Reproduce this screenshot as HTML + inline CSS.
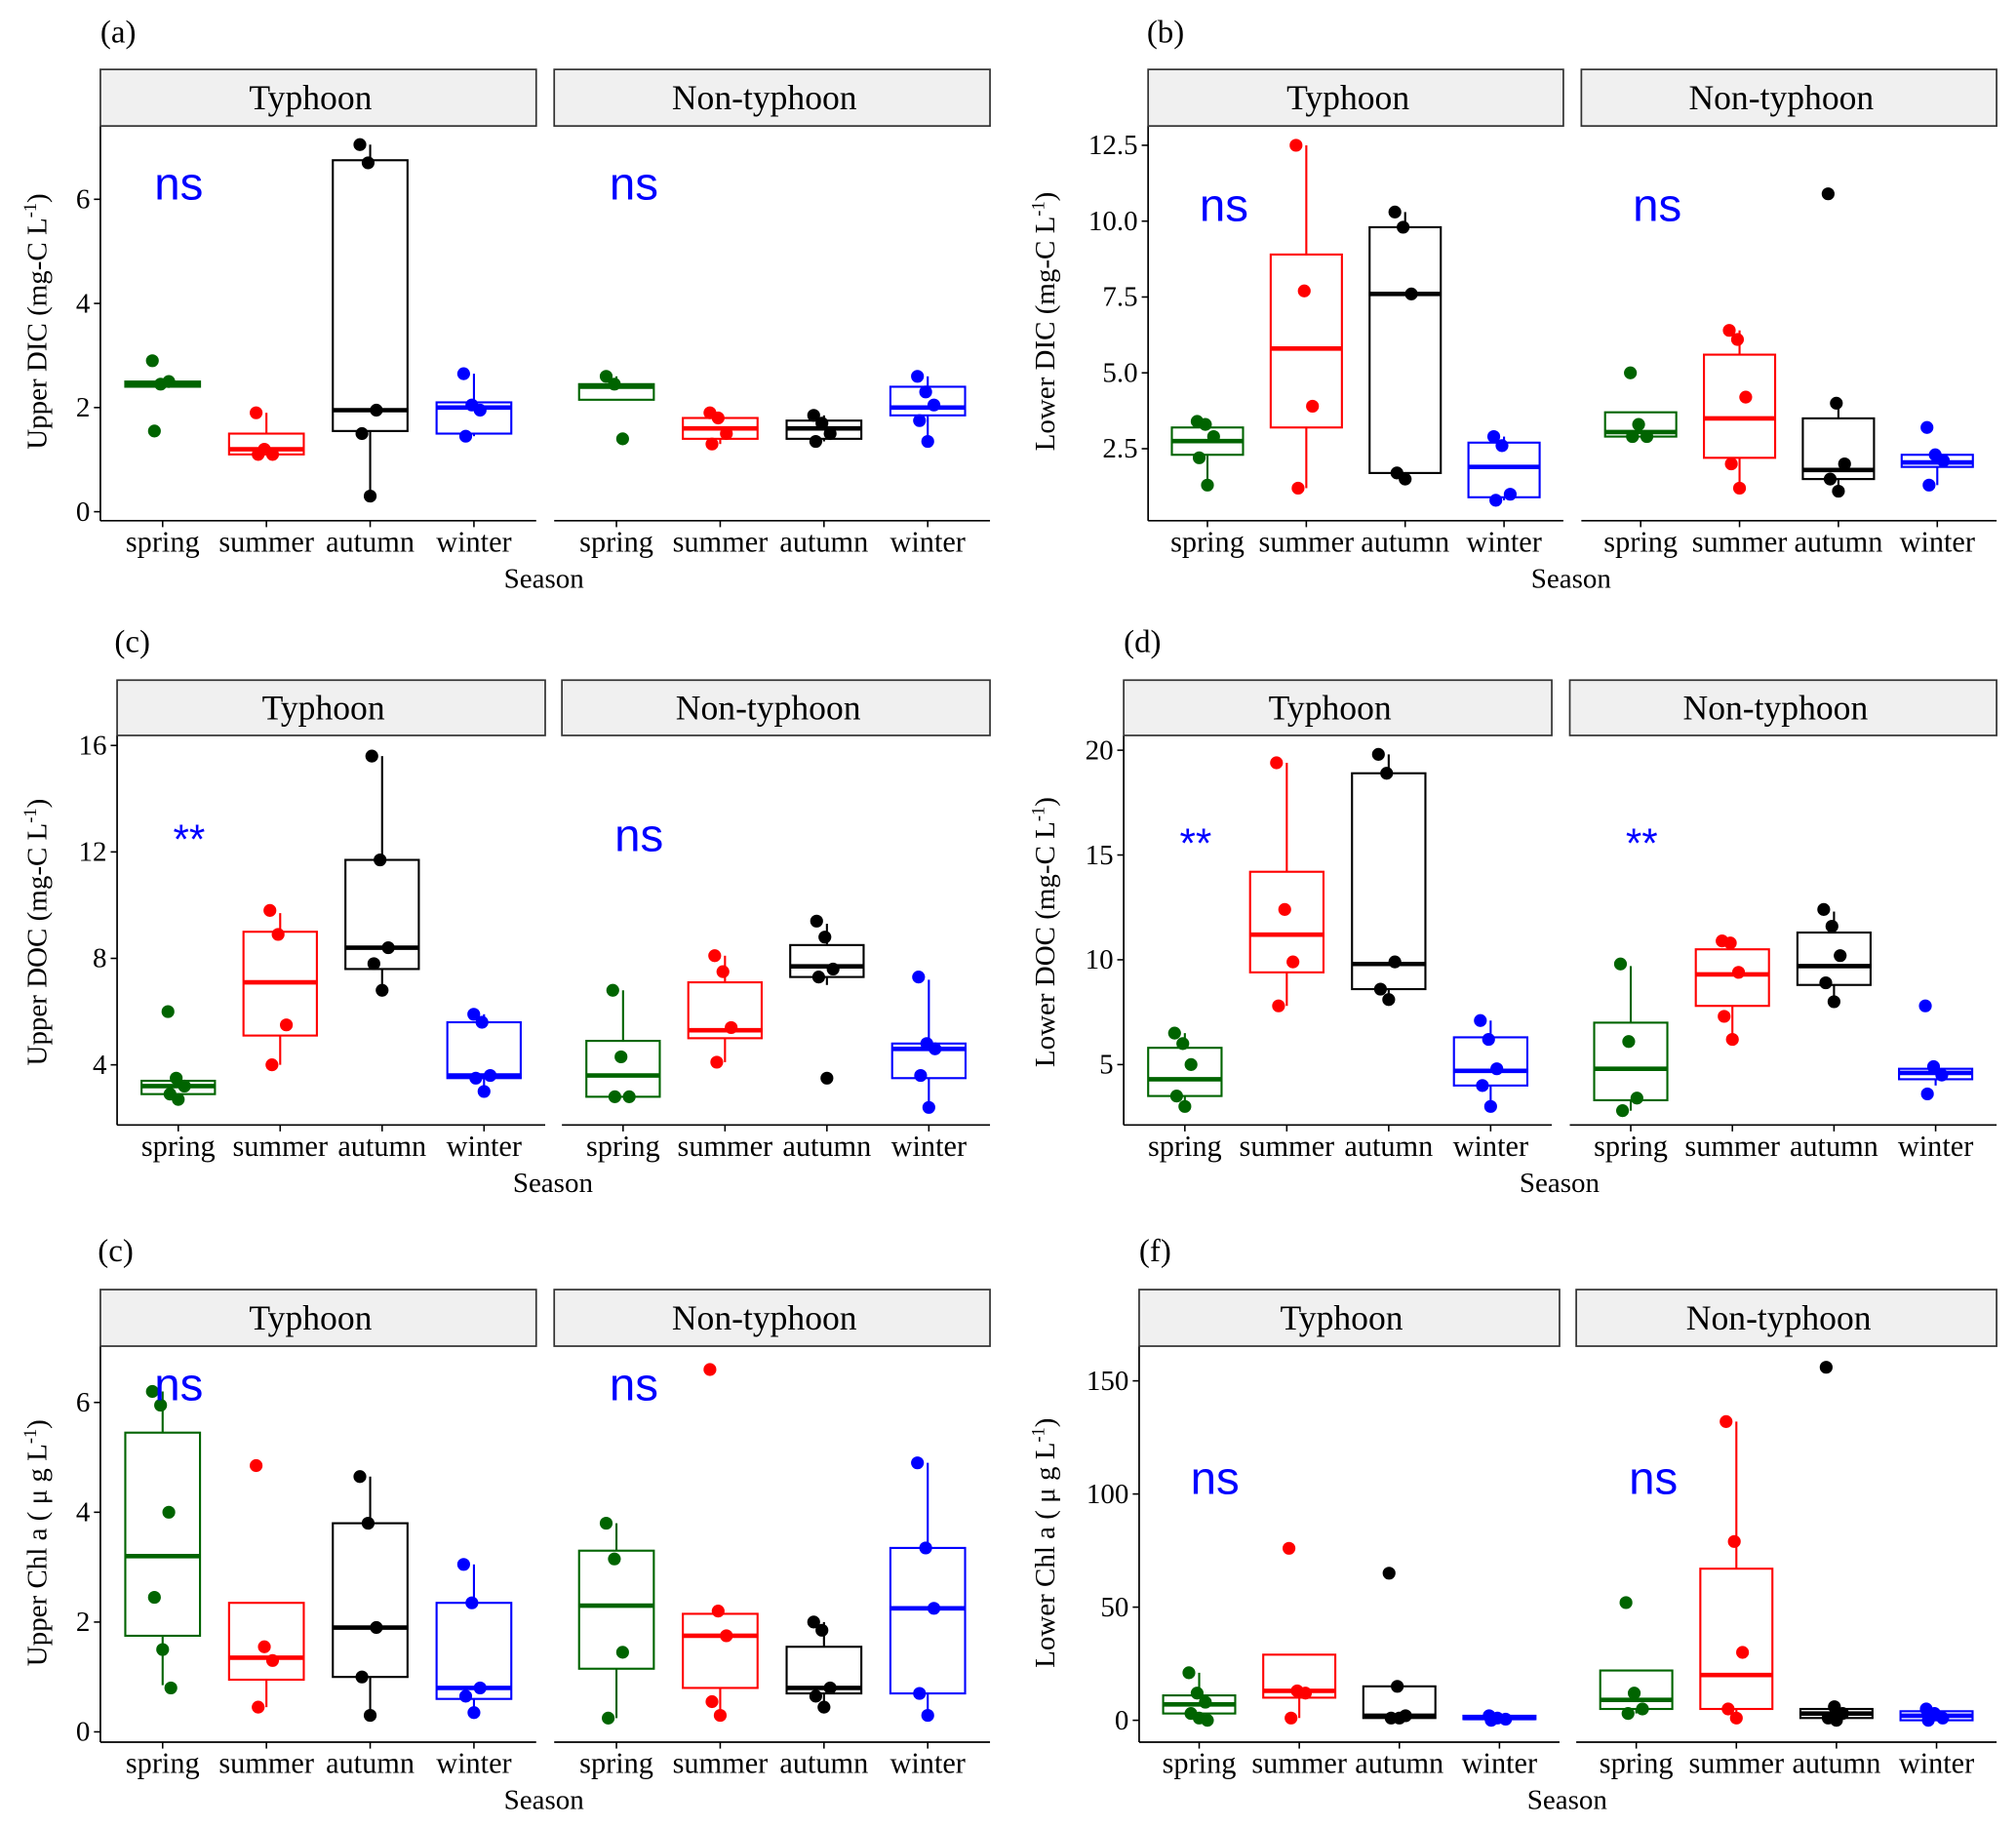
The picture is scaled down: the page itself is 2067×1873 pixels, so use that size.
<!DOCTYPE html>
<html><head><meta charset="utf-8">
<style>
html,body{margin:0;padding:0;background:#fff;}
svg{display:block;}
text{font-family:"Liberation Serif",serif;}
</style></head>
<body>
<svg id="fig" width="2067" height="1873" viewBox="0 0 1568 1421" xmlns="http://www.w3.org/2000/svg"></svg>
<script>
// categories
const seasons = ["spring","summer","autumn","winter"];
const facets = ["Typhoon","Non-typhoon"];
const colors = ["#006400","#ff0000","#000000","#0000ff"];

// stats: [min, q1, median, q3, max] ; points: observed values
const aTyphoonStats = [[2.4,2.4,2.45,2.5,2.5],[1.1,1.1,1.2,1.5,1.9],[0.3,1.55,1.95,6.75,7.05],[1.45,1.5,2.0,2.1,2.65]];
const aTyphoonPts = [[2.9,2.45,2.5,1.55],[1.9,1.2,1.1,1.1],[7.05,6.7,1.95,1.5,0.3],[2.65,2.05,1.95,1.45]];
const aNonStats = [[2.15,2.15,2.4,2.45,2.6],[1.3,1.4,1.6,1.8,1.9],[1.35,1.4,1.6,1.75,1.85],[1.35,1.85,2.0,2.4,2.6]];
const aNonPts = [[2.6,2.45,1.4],[1.9,1.8,1.5,1.3],[1.85,1.7,1.5,1.35],[2.6,2.3,2.05,1.75,1.35]];

const bTyphoonStats = [[1.3,2.3,2.75,3.2,3.4],[1.2,3.2,5.8,8.9,12.5],[1.5,1.7,7.6,9.8,10.3],[0.8,0.9,1.9,2.7,2.9]];
const bTyphoonPts = [[3.4,3.3,2.9,2.2,1.3],[12.5,7.7,3.9,1.2],[10.3,9.8,7.6,1.7,1.5],[2.9,2.6,1.0,0.8]];
const bNonStats = [[2.9,2.9,3.05,3.7,3.7],[1.2,2.2,3.5,5.6,6.4],[1.1,1.5,1.8,3.5,4.0],[1.3,1.9,2.05,2.3,2.3]];
const bNonPts = [[5.0,3.3,2.9,2.9],[6.4,6.1,4.2,2.0,1.2],[10.9,4.0,2.0,1.5,1.1],[3.2,2.3,2.1,1.3]];

const cTyphoonStats = [[2.7,2.9,3.2,3.4,3.6],[4.0,5.1,7.1,9.0,9.7],[6.8,7.6,8.4,11.7,15.6],[3.0,3.5,3.6,5.6,5.9]];
const cTyphoonPts = [[6.0,3.5,3.2,2.9,2.7],[9.8,8.9,5.5,4.0],[15.6,11.7,8.4,7.8,6.8],[5.9,5.6,3.6,3.5,3.0]];
const cNonStats = [[2.8,2.8,3.6,4.9,6.8],[4.1,5.0,5.3,7.1,8.1],[7.0,7.3,7.7,8.5,9.3],[2.4,3.5,4.6,4.8,7.2]];
const cNonPts = [[6.8,4.3,2.8,2.8],[8.1,7.5,5.4,4.1],[9.4,8.8,7.6,7.3,3.5],[7.3,4.8,4.6,3.6,2.4]];

const dTyphoonStats = [[3.0,3.5,4.3,5.8,6.5],[7.8,9.4,11.2,14.2,19.4],[8.1,8.6,9.8,18.9,19.8],[3.0,4.0,4.7,6.3,7.1]];
const dTyphoonPts = [[6.5,6.0,5.0,3.5,3.0],[19.4,12.4,9.9,7.8],[19.8,18.9,9.9,8.6,8.1],[7.1,6.2,4.8,4.0,3.0]];
const dNonStats = [[2.8,3.3,4.8,7.0,9.7],[6.2,7.8,9.3,10.5,10.9],[8.0,8.8,9.7,11.3,12.3],[4.0,4.3,4.6,4.8,4.9]];
const dNonPts = [[9.8,6.1,3.4,2.8],[10.9,10.8,9.4,7.3,6.2],[12.4,11.6,10.2,8.9,8.0],[7.8,4.9,4.5,3.6]];

const eTyphoonStats = [[0.85,1.75,3.2,5.45,6.2],[0.45,0.95,1.35,2.35,2.35],[0.3,1.0,1.9,3.8,4.65],[0.35,0.6,0.8,2.35,3.05]];
const eTyphoonPts = [[6.2,5.95,4.0,2.45,1.5,0.8],[4.85,1.55,1.3,0.45],[4.65,3.8,1.9,1.0,0.3],[3.05,2.35,0.8,0.65,0.35]];
const eNonStats = [[0.25,1.15,2.3,3.3,3.8],[0.3,0.8,1.75,2.15,2.25],[0.45,0.7,0.8,1.55,2.0],[0.3,0.7,2.25,3.35,4.9]];
const eNonPts = [[3.8,3.15,1.45,0.25],[6.6,2.2,1.75,0.55,0.3],[2.0,1.85,0.8,0.65,0.45],[4.9,3.35,2.25,0.7,0.3]];

const fTyphoonStats = [[0,3,7,11,21],[1,10,13,29,29],[0,1,2,15,15],[0,0.5,1,2,2]];
const fTyphoonPts = [[21,12,8,3,1,0],[76,13,12,1],[65,15,2,1,1],[2,1,0.5,0]];
const fNonStats = [[3,5,9,22,22],[0,5,20,67,132],[0,1,3,5,6],[0,0,2,4,5]];
const fNonPts = [[52,12,5,3],[132,79,30,5,1],[156,6,3,1,0],[5,3,1,0]];

const aTicks = [0,2,4,6], aTickLabels = ["0","2","4","6"];
const bTicks = [2.5,5,7.5,10,12.5], bTickLabels = ["2.5","5.0","7.5","10.0","12.5"];
const cTicks = [4,8,12,16], cTickLabels = ["4","8","12","16"];
const dTicks = [5,10,15,20], dTickLabels = ["5","10","15","20"];
const eTicks = [0,2,4,6], eTickLabels = ["0","2","4","6"];
const fTicks = [0,50,100,150], fTickLabels = ["0","50","100","150"];

const panels = [
 {id:"a",label:"(a)",lx:78,ly:25,s:[[78,417],[431,770]],st:54,sb:98,ax:405,v0:398,pv:40.5,yt:"Upper DIC (mg-C L",ytx:28,yty:250,
  T:[aTyphoonStats,aTyphoonPts],N:[aNonStats,aNonPts],ticks:aTicks,tl:aTickLabels,
  sig:[["ns",139,143,36],["ns",493,143,36]],season:423},
 {id:"b",label:"(b)",lx:892,ly:25,s:[[893,1216],[1230,1553]],st:54,sb:98,ax:405,v0:408,pv:23.6,yt:"Lower DIC (mg-C L",ytx:812,yty:250,
  T:[bTyphoonStats,bTyphoonPts],N:[bNonStats,bNonPts],ticks:bTicks,tl:bTickLabels,
  sig:[["ns",952,160,36],["ns",1289,160,36]],season:1222},
 {id:"c",label:"(c)",lx:89,ly:499,s:[[91,424],[437,770]],st:529,sb:572,ax:875,v0:911,pv:20.7,yt:"Upper DOC (mg-C L",ytx:28,yty:725,
  T:[cTyphoonStats,cTyphoonPts],N:[cNonStats,cNonPts],ticks:cTicks,tl:cTickLabels,
  sig:[["**",147,652,32],["ns",497,650,36]],season:430},
 {id:"d",label:"(d)",lx:874,ly:499,s:[[874,1207],[1221,1553]],st:529,sb:572,ax:875,v0:909.5,pv:16.3,yt:"Lower DOC (mg-C L",ytx:812,yty:725,
  T:[dTyphoonStats,dTyphoonPts],N:[dNonStats,dNonPts],ticks:dTicks,tl:dTickLabels,
  sig:[["**",930,655,32],["**",1277,655,32]],season:1213},
 {id:"e",label:"(c)",lx:76,ly:973,s:[[78,417],[431,770]],st:1003,sb:1047,ax:1355,v0:1347,pv:42.7,yt:"Upper Chl a ( μ g L",ytx:28,yty:1200,
  T:[eTyphoonStats,eTyphoonPts],N:[eNonStats,eNonPts],ticks:eTicks,tl:eTickLabels,
  sig:[["ns",139,1077,36],["ns",493,1077,36]],season:423},
 {id:"f",label:"(f)",lx:886,ly:973,s:[[886,1213],[1226,1553]],st:1003,sb:1047,ax:1355,v0:1338,pv:1.76,yt:"Lower Chl a ( μ g L",ytx:812,yty:1200,
  T:[fTyphoonStats,fTyphoonPts],N:[fNonStats,fNonPts],ticks:fTicks,tl:fTickLabels,
  sig:[["ns",945,1150,36],["ns",1286,1150,36]],season:1219}
];

const NS="http://www.w3.org/2000/svg";
const svg=document.getElementById("fig");
function mk(tag,attrs,parent,txt){const e=document.createElementNS(NS,tag);for(const k in attrs)e.setAttribute(k,attrs[k]);if(txt!==undefined)e.textContent=txt;(parent||svg).appendChild(e);return e;}

panels.forEach(p=>{
  const g=mk("g",{});
  
  
  const yS=v=>p.v0-p.pv*v;
  const lab=mk("text",{x:p.lx,y:p.ly+8,"font-size":25},g,p.label);
  
  
  const left=p.s[0][0];
  const yl=mk("line",{x1:left,x2:left,y1:p.sb,y2:p.ax,stroke:"#000","stroke-width":1.3},g);
  
  
  p.ticks.forEach((t,i)=>{
    const y=yS(t);
    mk("line",{x1:left-5,x2:left,y1:y,y2:y,stroke:"#000","stroke-width":1.2},g);
    const tt=mk("text",{x:left-8,y:y+7,"font-size":22,"text-anchor":"end"},g,p.tl[i]);
    
    
  });
  const yt=mk("text",{transform:`translate(${p.ytx+8},${p.yty}) rotate(-90)`,"font-size":22,"text-anchor":"middle"},g);
  
  
  mk("tspan",{},yt,p.yt);
  mk("tspan",{dy:-8,"font-size":14},yt,"-1");
  mk("tspan",{dy:8},yt,")");
  [p.T,p.N].forEach((fd,fi)=>{
    const [x1,x2]=p.s[fi];const w=x2-x1;
    const strip=mk("rect",{x:x1,y:p.st,width:w,height:p.sb-p.st,fill:"#f0f0f0",stroke:"#333","stroke-width":1.3},g);
    
    
    const stt=mk("text",{x:x1+w/2-6,y:(p.st+p.sb)/2+9,"font-size":27,"text-anchor":"middle"},g,facets[fi]);
    
    
    const xl=mk("line",{x1:x1,x2:x2,y1:p.ax,y2:p.ax,stroke:"#000","stroke-width":1.3},g);
    
    
    const xS=i=>x1+(i+0.6)/4.2*w;
    const bw=0.72*w/4.2;
    const [stats,pts]=fd;
    seasons.forEach((s,i)=>{
      const cx=xS(i),c=colors[i];
      mk("line",{x1:cx,x2:cx,y1:p.ax,y2:p.ax+5,stroke:"#000","stroke-width":1.2},g);
      const xt=mk("text",{x:cx,y:p.ax+24,"font-size":23,"text-anchor":"middle"},g,s);
      
      
      const st=stats[i];
      const bg=mk("g",{},g);
      
      
      mk("line",{x1:cx,x2:cx,y1:yS(st[0]),y2:yS(st[1]),stroke:c,"stroke-width":1.6},bg);
      mk("line",{x1:cx,x2:cx,y1:yS(st[3]),y2:yS(st[4]),stroke:c,"stroke-width":1.6},bg);
      mk("rect",{x:cx-bw/2,y:yS(st[3]),width:bw,height:Math.max(0.5,yS(st[1])-yS(st[3])),fill:"#fff",stroke:c,"stroke-width":1.6},bg);
      mk("line",{x1:cx-bw/2,x2:cx+bw/2,y1:yS(st[2]),y2:yS(st[2]),stroke:c,"stroke-width":3.5},bg);
      pts[i].forEach((v,k)=>{
        const off=((k*37)%11-5)*1.6;
        const pt=mk("circle",{cx:cx+off,cy:yS(v),r:5,fill:c},g);
        
        
      });
    });
  });
  p.sig.forEach(sg=>{
    const t=mk("text",{x:sg[1],y:sg[2]+12,"font-size":sg[3],"text-anchor":"middle",fill:"#0000ff",style:'font-family:"Liberation Sans",sans-serif'},g,sg[0]);
    
    
  });
  const se=mk("text",{x:p.season,y:p.ax+52,"font-size":22,"text-anchor":"middle"},g,"Season");
  
  
});
</script>
</body></html>
